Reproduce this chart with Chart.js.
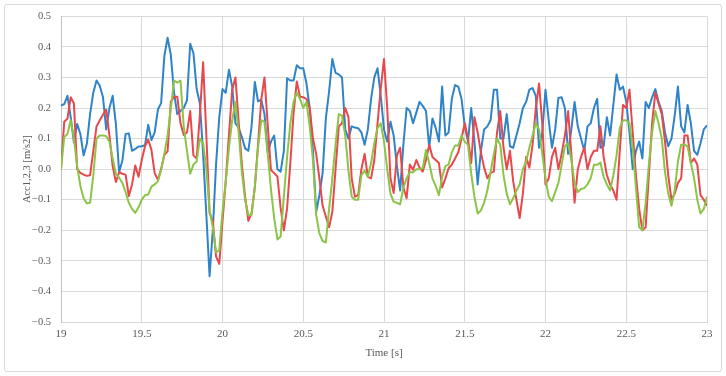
<!DOCTYPE html>
<html>
<head>
<meta charset="utf-8">
<script src="https://cdn.jsdelivr.net/npm/chart.js@4/dist/chart.umd.min.js"></script>
<style>
  html, body { margin: 0; padding: 0; background: #ffffff; }
  #wrap { position: relative; width: 726px; height: 376px; }
  #frame { position: absolute; left: 4px; top: 4px; width: 716px; height: 366px; border: 1px solid #d9d9d9; border-radius: 3px; pointer-events: none; }
  canvas { position: absolute; left: 0; top: 0; }
</style>
</head>
<body>
<div id="wrap">
  <canvas id="c" width="726" height="376"></canvas>
  <div id="frame"></div>
</div>
<script>
// Sampling grid (time in seconds)
const tStart = 19;
const tStep = 0.02;

// Series values, one per 0.02 s from 19.00 to 23.00
const acc1 = [
  0.208, 0.213, 0.24, 0.17, 0.088, 0.148, 0.115, 0.045, 0.083, 0.18, 0.25, 0.29, 0.273, 0.235, 0.13, 0.2, 0.24, 0.147, -0.01, 0.028, 0.115, 0.117, 0.06, 0.066, 0.074, 0.075,
  0.078, 0.145, 0.095, 0.12, 0.195, 0.216, 0.37, 0.43, 0.374, 0.25, 0.18, 0.19, 0.2, 0.225, 0.41, 0.38, 0.262, 0.215, 0.05, -0.15, -0.35, -0.2, 0.015, 0.17, 0.262,
  0.25, 0.325, 0.27, 0.15, 0.135, 0.105, 0.068, 0.06, 0.14, 0.285, 0.222, 0.227, 0.18, 0.055, 0.09, 0.11, 0.0, -0.008, 0.06, 0.297, 0.29, 0.29, 0.34, 0.33, 0.33,
  0.28, 0.2, 0.06, -0.14, -0.085, -0.012, 0.167, 0.254, 0.36, 0.315, 0.31, 0.3, 0.13, 0.1, 0.14, 0.136, 0.134, 0.12, 0.08, 0.13, 0.23, 0.3, 0.33, 0.24, 0.13,
  0.09, 0.155, 0.11, 0.01, -0.07, 0.08, 0.2, 0.19, 0.15, 0.185, 0.22, 0.207, 0.19, 0.07, 0.166, 0.135, 0.09, 0.27, 0.11, 0.12, 0.23, 0.275, 0.27, 0.23, 0.14,
  0.09, 0.2, 0.09, -0.05, 0.06, 0.13, 0.14, 0.16, 0.26, 0.26, 0.1, 0.1, 0.18, 0.075, 0.07, 0.11, 0.15, 0.2, 0.22, 0.26, 0.265, 0.24, 0.07, 0.12, 0.26,
  0.16, 0.07, 0.13, 0.233, 0.235, 0.2, 0.05, 0.13, 0.22, 0.14, 0.1, 0.06, 0.14, 0.15, 0.2, 0.23, 0.07, 0.075, 0.17, 0.11, 0.21, 0.31, 0.26, 0.27, 0.22,
  0.12, 0.0, 0.06, 0.09, 0.035, 0.22, 0.2, 0.235, 0.262, 0.22, 0.19, 0.12, 0.075, 0.1, 0.175, 0.27, 0.14, 0.12, 0.21, 0.15, 0.06, 0.047, 0.085, 0.13, 0.143
];
const acc2 = [
  0.0, 0.155, 0.165, 0.235, 0.215, 0.0, -0.012, -0.018, -0.022, -0.02, 0.06, 0.14, 0.16, 0.178, 0.195, 0.11, 0.01, -0.042, -0.01, -0.015, -0.018, -0.088, -0.05, 0.012, -0.025, 0.03,
  0.075, 0.097, 0.063, -0.013, -0.035, 0.0, 0.047, 0.058, 0.22, 0.237, 0.237, 0.15, 0.112, 0.12, 0.19, 0.045, 0.035, 0.178, 0.35, 0.11, -0.143, -0.17, -0.285, -0.31, -0.17,
  -0.04, 0.112, 0.26, 0.3, 0.156, 0.015, -0.09, -0.169, -0.144, -0.06, 0.08, 0.227, 0.3, 0.145, -0.003, -0.013, -0.024, -0.127, -0.2, -0.128, 0.02, 0.183, 0.287, 0.237, 0.235,
  0.23, 0.2, 0.1, 0.05, -0.03, -0.12, -0.155, -0.19, -0.14, 0.0, 0.14, 0.15, 0.2, 0.17, -0.03, -0.09, -0.085, 0.0, 0.05, -0.025, -0.03, 0.03, 0.15, 0.265, 0.36,
  0.2, -0.03, -0.078, 0.045, 0.07, -0.06, -0.095, 0.015, -0.002, 0.03, 0.005, -0.008, 0.03, 0.08, 0.04, 0.03, 0.02, -0.06, -0.03, 0.003, 0.015, 0.035, 0.055, 0.1, 0.15,
  0.1, 0.02, 0.17, 0.12, 0.055, 0.005, -0.03, -0.012, -0.008, 0.12, 0.19, 0.07, 0.0, 0.06, -0.04, -0.1, -0.16, -0.08, 0.04, 0.005, 0.08, 0.2, 0.28, 0.15, -0.05,
  -0.03, 0.04, 0.07, 0.0, 0.05, 0.11, 0.19, 0.05, -0.11, 0.0, 0.04, 0.07, 0.0, 0.04, 0.06, 0.06, 0.14, 0.04, -0.02, -0.05, -0.07, -0.1, 0.06, 0.21, 0.2,
  0.26, 0.12, -0.02, -0.13, -0.2, -0.19, -0.02, 0.15, 0.25, 0.215, 0.18, 0.09, -0.02, -0.1, -0.08, -0.045, -0.03, 0.11, 0.11, 0.02, 0.035, 0.015, -0.085, -0.1, -0.12
];
const acc3 = [
  0.0, 0.105, 0.115, 0.16, 0.1, 0.01, -0.055, -0.095, -0.112, -0.11, -0.02, 0.1, 0.11, 0.11, 0.108, 0.09, 0.035, -0.015, -0.028, -0.045, -0.075, -0.11, -0.13, -0.143, -0.125, -0.1,
  -0.085, -0.083, -0.057, -0.05, -0.04, -0.002, 0.05, 0.11, 0.2, 0.29, 0.283, 0.29, 0.14, 0.06, -0.015, 0.015, 0.025, 0.1, 0.085, 0.0, -0.135, -0.19, -0.272, -0.265, -0.14,
  -0.04, 0.07, 0.16, 0.22, 0.12, -0.01, -0.1, -0.15, -0.15, -0.06, 0.07, 0.16, 0.155, 0.05, -0.065, -0.16, -0.23, -0.22, -0.09, 0.04, 0.15, 0.22, 0.25, 0.23, 0.2,
  0.22, 0.14, 0.03, -0.15, -0.21, -0.235, -0.24, -0.13, -0.03, 0.08, 0.18, 0.175, 0.11, -0.005, -0.09, -0.1, -0.1, -0.02, -0.005, -0.025, 0.02, 0.085, 0.135, 0.15, 0.09,
  0.0, -0.08, -0.107, -0.11, -0.115, -0.06, -0.03, -0.01, -0.01, 0.0, 0.0, 0.003, 0.063, 0.02, -0.03, -0.055, -0.085, -0.025, 0.01, 0.015, 0.055, 0.077, 0.077, 0.11, 0.09,
  0.08, -0.015, -0.09, -0.145, -0.135, -0.11, -0.07, -0.01, 0.05, 0.1, 0.08, -0.02, -0.08, -0.115, -0.095, -0.07, -0.05, 0.0, 0.025, 0.07, 0.11, 0.15, 0.13, 0.05, -0.03,
  -0.09, -0.105, -0.075, -0.045, 0.015, 0.075, 0.085, 0.03, -0.045, -0.075, -0.065, -0.062, -0.05, -0.03, 0.014, 0.014, 0.022, -0.025, -0.05, -0.07, -0.02, 0.045, 0.135, 0.16, 0.16,
  0.15, 0.07, -0.06, -0.19, -0.2, -0.11, 0.015, 0.12, 0.19, 0.15, 0.1, -0.01, -0.08, -0.12, -0.07, 0.025, 0.08, 0.08, 0.075, 0.02, -0.03, -0.1, -0.145, -0.13, -0.09
];

// Axis definitions
const xMin = 19, xMax = 23, xStep = 0.5;
const yMin = -0.5, yMax = 0.5, yStep = 0.1;
const xTitle = 'Time [s]';
const yTitle = 'Acc1,2,3 [m/s2]';

const times = acc1.map((_, i) => +(tStart + i * tStep).toFixed(2));
const pts = arr => arr.map((v, i) => ({ x: times[i], y: v }));

const FONT = "'Liberation Serif', 'DejaVu Serif', serif";
const TXT = '#595959';
const GRID = '#d9d9d9';

new Chart(document.getElementById('c'), {
  type: 'line',
  data: {
    datasets: [
      { label: 'Acc1', data: pts(acc1), borderColor: '#2f83c8', borderWidth: 2, order: 3 },
      { label: 'Acc2', data: pts(acc2), borderColor: '#e8474b', borderWidth: 2, order: 2 },
      { label: 'Acc3', data: pts(acc3), borderColor: '#8cc448', borderWidth: 2, order: 1 }
    ]
  },
  options: {
    responsive: false,
    animation: false,
    events: [],
    elements: { point: { radius: 0 }, line: { tension: 0, fill: false, borderJoinStyle: 'round' } },
    layout: { padding: { left: 0, top: 16, right: 19, bottom: 0 } },
    plugins: { legend: { display: false }, tooltip: { enabled: false } },
    scales: {
      x: {
        type: 'linear', min: xMin, max: xMax,
        afterFit: s => { s.height = 54; },
        ticks: { stepSize: xStep, padding: 6, color: TXT, font: { family: FONT, size: 11 },
                 callback: v => String(v) },
        grid: { color: GRID, drawTicks: false, lineWidth: 1 },
        border: { display: true, color: GRID },
        title: { display: true, text: xTitle, color: TXT, font: { family: FONT, size: 11 }, padding: { top: 0, bottom: 16 } }
      },
      y: {
        type: 'linear', min: yMin, max: yMax,
        afterFit: s => { s.width = 61; },
        ticks: { stepSize: yStep, padding: 10, color: TXT, font: { family: FONT, size: 10.5 },
                 callback: v => { const s = Math.abs(v).toFixed(1); return v < -1e-9 ? '\u2212' + s : s; } },
        grid: { color: GRID, drawTicks: false, lineWidth: 1 },
        border: { display: true, color: '#bfbfbf' },
        title: { display: true, text: yTitle, color: TXT, font: { family: FONT, size: 10.5 }, padding: { top: 21, bottom: 0 } }
      }
    }
  }
});
</script>
</body>
</html>
